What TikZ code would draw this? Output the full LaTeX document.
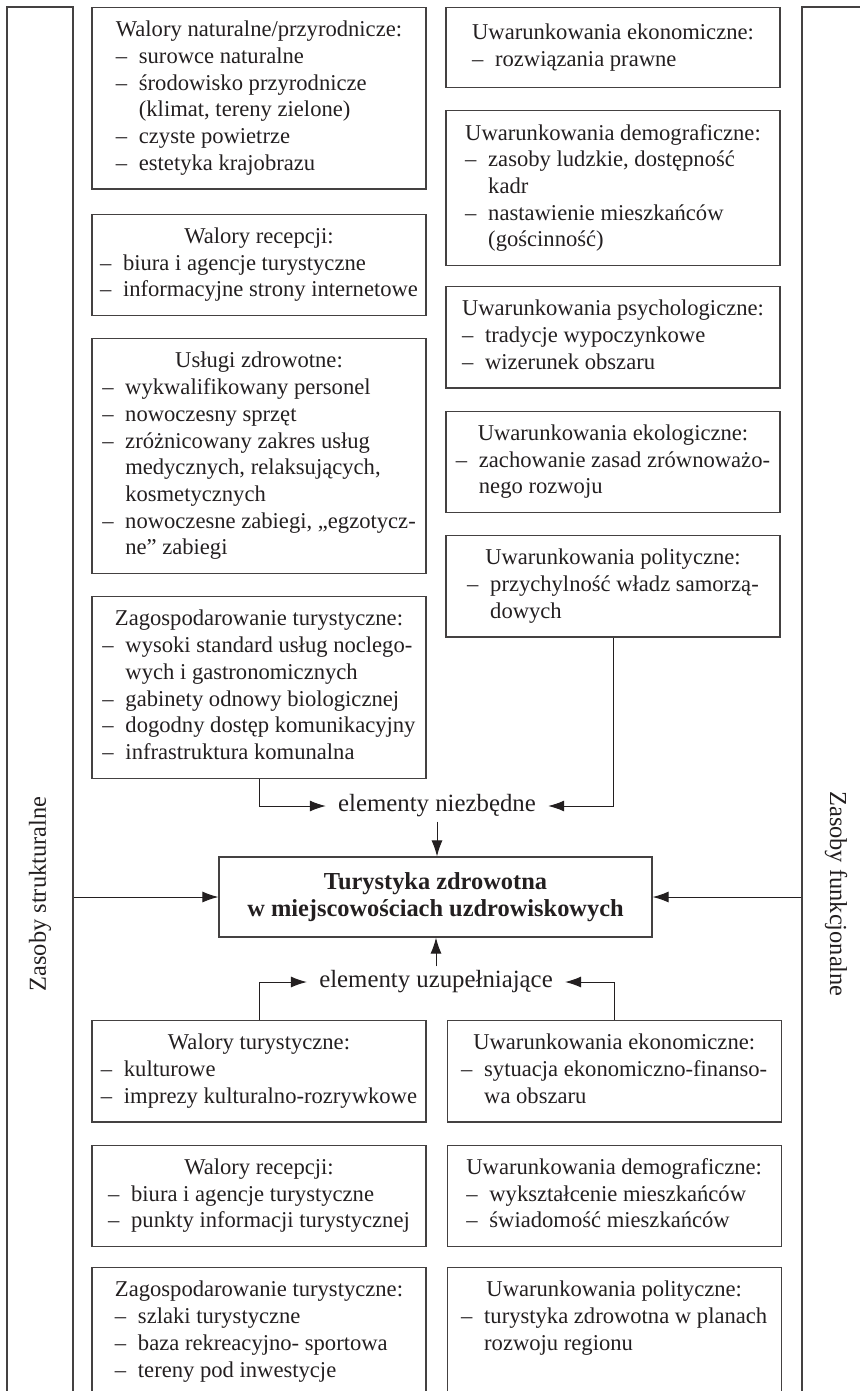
\documentclass[tikz,border=0pt]{standalone}
\usepackage{fontspec}
\setmainfont{Liberation Serif}
\usetikzlibrary{positioning, arrows.meta}
\definecolor{druk}{HTML}{231F20}
\newcommand{\nagl}[1]{\multicolumn{1}{@{}c@{}}{#1}}
\newcommand{\pkt}[1]{\makebox[11.5pt][l]{–}#1}
\newcommand{\ciag}[1]{\hspace*{11.5pt}#1}
\tikzset{
    >={Latex[length=8pt,width=5.5pt]}, % filled arrow heads
    node distance=11pt, % gap between two boxes of a column
    every node/.style={text=druk, font=\fontsize{11.3}{13.35}\selectfont},
    blok/.style={draw=druk!85, line width=0.6pt, minimum width=167pt, inner xsep=4pt, inner ysep=5.3pt, anchor=north},
    glowny/.style={draw=druk!85, line width=0.6pt, minimum width=216.5pt, minimum height=40pt, align=center, font=\bfseries\fontsize{12.2}{13.6}\selectfont},
    bok/.style={draw=druk!85, line width=0.6pt, minimum width=887pt, font=\fontsize{12.2}{14}\selectfont},
    etyk/.style={font=\fontsize{12.4}{14}\selectfont, inner xsep=6pt, inner ysep=2pt},
    strz/.style={->, draw=druk, line width=0.5pt},
}
\begin{document}
\begin{tikzpicture}[x=0.5pt, y=-0.5pt]
    \useasboundingbox (0,0) rectangle (860,1391);
    \clip (0,0) rectangle (860,1391);

    % side frames
    \node[bok, rotate=90, minimum height=33pt] (zs) at (40,894) {Zasoby strukturalne};
    \node[bok, rotate=-90, minimum height=34pt] (zf) at (836,894) {Zasoby funkcjonalne};

    % left column, top
    \node[blok] (wn) at (259,7) {\begin{tabular}{@{}l@{}}
        \nagl{Walory naturalne/przyrodnicze:}\\
        \pkt{surowce naturalne}\\
        \pkt{środowisko przyrodnicze}\\
        \ciag{(klimat, tereny zielone)}\\
        \pkt{czyste powietrze}\\
        \pkt{estetyka krajobrazu}
    \end{tabular}};
    \node[blok, below=12pt of wn] (wr1) {\begin{tabular}{@{}l@{}}
        \nagl{Walory recepcji:}\\
        \pkt{biura i agencje turystyczne}\\
        \pkt{informacyjne strony internetowe}
    \end{tabular}};
    \node[blok, below=of wr1] (uz) {\begin{tabular}{@{}l@{}}
        \nagl{Usługi zdrowotne:}\\
        \pkt{wykwalifikowany personel}\\
        \pkt{nowoczesny sprzęt}\\
        \pkt{zróżnicowany zakres usług}\\
        \ciag{medycznych, relaksujących,}\\
        \ciag{kosmetycznych}\\
        \pkt{nowoczesne zabiegi, „egzotycz-}\\
        \ciag{ne” zabiegi}
    \end{tabular}};
    \node[blok, below=of uz] (zt1) {\begin{tabular}{@{}l@{}}
        \nagl{Zagospodarowanie turystyczne:}\\
        \pkt{wysoki standard usług noclego-}\\
        \ciag{wych i gastronomicznych}\\
        \pkt{gabinety odnowy biologicznej}\\
        \pkt{dogodny dostęp komunikacyjny}\\
        \pkt{infrastruktura komunalna}
    \end{tabular}};

    % right column, top
    \node[blok, minimum height=40pt] (ue1) at (613,7) {\begin{tabular}{@{}l@{}}
        \nagl{Uwarunkowania ekonomiczne:}\\
        \pkt{rozwiązania prawne}
    \end{tabular}};
    \node[blok, below=of ue1] (ud1) {\begin{tabular}{@{}l@{}}
        \nagl{Uwarunkowania demograficzne:}\\
        \pkt{zasoby ludzkie, dostępność}\\
        \ciag{kadr}\\
        \pkt{nastawienie mieszkańców}\\
        \ciag{(gościnność)}
    \end{tabular}};
    \node[blok, below=10pt of ud1] (ups) {\begin{tabular}{@{}l@{}}
        \nagl{Uwarunkowania psychologiczne:}\\
        \pkt{tradycje wypoczynkowe}\\
        \pkt{wizerunek obszaru}
    \end{tabular}};
    \node[blok, below=of ups] (uek) {\begin{tabular}{@{}l@{}}
        \nagl{Uwarunkowania ekologiczne:}\\
        \pkt{zachowanie zasad zrównoważo-}\\
        \ciag{nego rozwoju}
    \end{tabular}};
    \node[blok, below=of uek] (up1) {\begin{tabular}{@{}l@{}}
        \nagl{Uwarunkowania polityczne:}\\
        \pkt{przychylność władz samorzą-}\\
        \ciag{dowych}
    \end{tabular}};

    % centre
    \node[glowny] (tz) at (435.5,897) {Turystyka zdrowotna\\w miejscowościach uzdrowiskowych};
    \node[etyk] (en) at (437,806) {elementy niezbędne};
    \node[etyk] (eu) at (436,982) {elementy uzupełniające};

    % bottom rows
    \node[blok] (wt) at (259,1020) {\begin{tabular}{@{}l@{}}
        \nagl{Walory turystyczne:}\\
        \pkt{kulturowe}\\
        \pkt{imprezy kulturalno-rozrywkowe}
    \end{tabular}};
    \node[blok, below=of wt] (wr2) {\begin{tabular}{@{}l@{}}
        \nagl{Walory recepcji:}\\
        \pkt{biura i agencje turystyczne}\\
        \pkt{punkty informacji turystycznej}
    \end{tabular}};
    \node[blok, below=10pt of wr2] (zt2) {\begin{tabular}{@{}l@{}}
        \nagl{Zagospodarowanie turystyczne:}\\
        \pkt{szlaki turystyczne}\\
        \pkt{baza rekreacyjno- sportowa}\\
        \pkt{tereny pod inwestycje}\\
        \strut
    \end{tabular}};
    \node[blok, right=10pt of wt] (ue2) {\begin{tabular}{@{}l@{}}
        \nagl{Uwarunkowania ekonomiczne:}\\
        \pkt{sytuacja ekonomiczno-finanso-}\\
        \ciag{wa obszaru}
    \end{tabular}};
    \node[blok, right=10pt of wr2] (ud2) {\begin{tabular}{@{}l@{}}
        \nagl{Uwarunkowania demograficzne:}\\
        \pkt{wykształcenie mieszkańców}\\
        \pkt{świadomość mieszkańców}
    \end{tabular}};
    \node[blok, below=10pt of ud2] (up2) {\begin{tabular}{@{}l@{}}
        \nagl{Uwarunkowania polityczne:}\\
        \pkt{turystyka zdrowotna w planach}\\
        \ciag{rozwoju regionu}\\
        \strut\\
        \strut
    \end{tabular}};

    % connectors
    \draw[strz] (zt1.south) |- (en.west);
    \draw[strz] (up1.south) |- (en.east);
    \draw[strz] (en.south) -- (en.south |- tz.north);
    \draw[strz] (wt.north) |- (eu.west);
    \draw[strz] (ue2.north) |- (eu.east);
    \draw[strz] (eu.north) -- (eu.north |- tz.south);
    \draw[strz] (zs.south |- tz.west) -- (tz.west);
    \draw[strz] (zf.south |- tz.east) -- (tz.east);
\end{tikzpicture}
\end{document}
